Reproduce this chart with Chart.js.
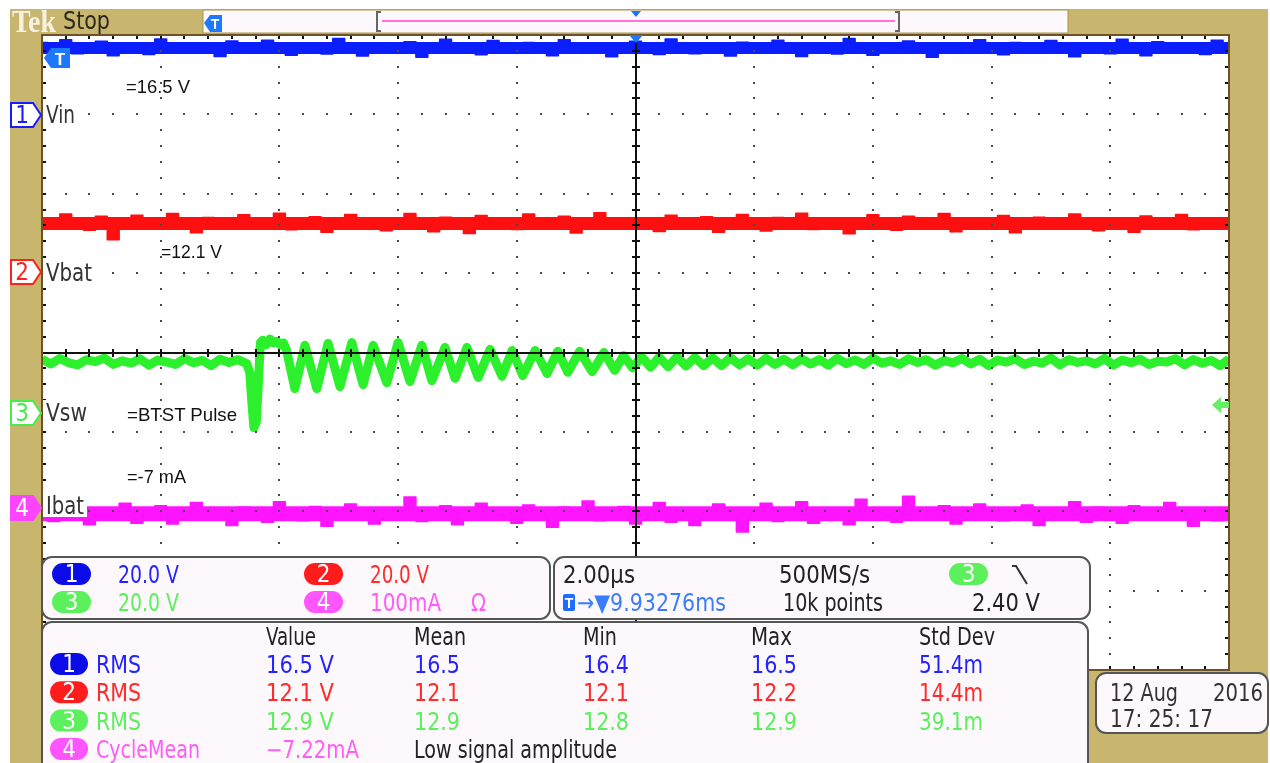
<!DOCTYPE html>
<html>
<head>
<meta charset="utf-8">
<script src="https://cdn.jsdelivr.net/npm/chart.js@4.4.1/dist/chart.umd.min.js"></script>
<style>
  html, body { margin: 0; padding: 0; background: #fff; }
  #wrap { position: relative; width: 1270px; height: 763px; overflow: hidden; }
  #tan { position: absolute; left: 10px; top: 9px; width: 1258px; height: 754px; background: #c8b66f; }
  #scope { position: absolute; left: 0; top: 0; }
  #ov { position: absolute; left: 0; top: 0; }
  .n { font-family: 'Liberation Sans Narrow', 'DejaVu Sans Condensed', 'Liberation Sans', sans-serif; font-size: 24px; }
  .a { font-family: 'Liberation Sans', Arial, sans-serif; font-size: 18.5px; fill: #111; }
</style>
</head>
<body>
<div id="wrap">
  <div id="tan"></div>
  <canvas id="scope" width="1270" height="763"></canvas>
  <svg id="ov" width="1270" height="763" xmlns="http://www.w3.org/2000/svg"></svg>
</div>
<script>
// scope setup
const timeSpan = 20;       // us across 10 div (2.00us/div)
const sampleStep = 0.2;    // us between stored samples of the flat traces
const ch1Pos = 3.01, ch1Scale = 20;   // div, V/div
const ch2Pos = 1.02, ch2Scale = 20;
const ch3Pos = -0.76, ch3Scale = 20;
const ch4Pos = -1.96, ch4Scale = 100; // mA/div

const rmsValues = [16.5, 12.1, 12.9, -7.22];

// Vin (V)
const ch1V = [
  17.9, 16.2, 18.6, 15.1, 16.8, 18.2, 14.6, 16.5, 17.4, 14.9, 18.8, 16.0, 15.3, 17.7, 16.4, 14.4, 18.3, 16.9, 15.6, 18.5,
  16.1, 14.7, 17.8, 16.6, 15.0, 18.9, 16.3, 14.5, 17.5, 16.8, 15.4, 18.1, 14.2, 16.7, 18.7, 15.8, 16.2, 14.8, 18.4, 16.5,
  15.2, 17.9, 16.0, 14.6, 18.6, 16.9, 15.5, 17.3, 14.3, 16.4, 18.2, 15.9, 14.9, 18.8, 16.6, 15.1, 17.6, 16.2, 14.5, 18.0,
  16.7, 15.3, 18.5, 16.1, 14.4, 17.8, 16.8, 15.0, 18.9, 16.3, 14.7, 17.4, 16.0, 18.3, 15.6, 14.2, 17.7, 16.5, 15.2, 18.6,
  16.4, 14.8, 17.9, 16.9, 15.4, 18.4, 16.2, 14.3, 17.6, 16.6, 15.1, 18.7, 16.0, 14.6, 18.1, 16.8, 15.5, 17.3, 14.9, 18.5, 16.3
];
// Vbat (V)
const ch2V = [
  13.4, 11.0, 14.5, 12.3, 10.4, 13.9, 8.0, 12.8, 14.2, 10.7, 12.0, 14.6, 11.3, 9.8, 13.6, 12.5, 10.9, 14.3, 11.8, 13.1,
  14.7, 10.5, 12.6, 13.8, 9.9, 12.2, 14.4, 11.1, 13.3, 10.3, 12.9, 14.6, 11.6, 10.0, 13.7, 12.4, 9.6, 14.1, 11.9, 13.0,
  10.6, 14.5, 12.1, 11.2, 13.9, 9.7, 12.7, 14.8, 10.8, 12.3, 13.5, 11.4, 10.1, 14.2, 12.6, 11.0, 13.8, 9.9, 12.9, 14.4,
  11.5, 10.2, 13.6, 12.0, 14.7, 10.6, 12.8, 13.2, 9.5, 12.4, 14.3, 11.7, 10.4, 13.9, 12.2, 11.1, 14.6, 10.0, 12.7, 13.4,
  11.3, 14.1, 9.8, 12.5, 13.7, 10.7, 12.1, 14.5, 11.6, 10.3, 13.3, 12.8, 9.9, 14.0, 11.8, 12.6, 14.4, 10.5, 13.1, 11.2, 12.3
];
// Ibat (mA)
const ch4mA = [
  0, -17, 4, -12, -21, -2, -14, 6, -19, -5, 3, -20, -9, 7, -15, -3, -22, 1, -11, -18,
  8, -6, -16, 2, -23, -8, 5, -13, -20, 0, -10, 14, -17, -4, 3, -21, -12, 6, -15, -1,
  -19, 4, -9, -24, 1, -14, 9, -16, -6, 2, -20, -11, 7, -18, -3, -22, -10, 5, -13, -30,
  -4, 6, -17, -8, 8, -19, 0, -12, -21, 11, -9, -2, -18, 15, -6, -15, 3, -20, -11, 5,
  -3, -16, -7, 4, -22, -5, -13, 8, -18, 1, -10, -19, 3, -8, -15, 7, -12, -23, -1, -16, -6
];
// Vsw (us, V): baseline, BTST pulse, ringing, baseline
const ch3T = [
  0, 0.15, 0.3, 0.45, 0.6, 0.75, 0.9, 1.05, 1.2, 1.35, 1.5, 1.65, 1.8, 1.95, 2.1, 2.25, 2.4, 2.55, 2.7, 2.85, 3.0, 3.15, 3.3, 3.45,
  3.50, 3.54, 3.57, 3.61, 3.63, 3.66, 3.68, 3.72, 3.78, 3.84, 3.90, 3.96, 4.02, 4.07, 4.12,
  4.26, 4.43, 4.63, 4.82, 5.02, 5.22, 5.41, 5.58, 5.81, 6.00, 6.20, 6.40, 6.57, 6.79, 6.96, 7.16, 7.35, 7.55, 7.75, 7.92,
  8.10, 8.31, 8.51, 8.69, 8.86, 9.06, 9.27, 9.47, 9.65,
  9.8, 9.95, 10.1, 10.25, 10.4, 10.55, 10.7, 10.85, 11.0, 11.15, 11.3, 11.45, 11.6, 11.75, 11.9, 12.05, 12.2, 12.35, 12.5, 12.65,
  12.8, 12.95, 13.1, 13.25, 13.4, 13.55, 13.7, 13.85, 14.0, 14.15, 14.3, 14.45, 14.6, 14.75, 14.9, 15.05, 15.2, 15.35, 15.5, 15.65,
  15.8, 15.95, 16.1, 16.25, 16.4, 16.55, 16.7, 16.85, 17.0, 17.15, 17.3, 17.45, 17.6, 17.75, 17.9, 18.05, 18.2, 18.35, 18.5, 18.65,
  18.8, 18.95, 19.1, 19.25, 19.4, 19.55, 19.7, 19.85, 20.0
];
const ch3V = [
  13.5, 12.3, 13.7, 12.6, 12.1, 13.4, 12.9, 13.8, 12.2, 13.1, 12.5, 13.6, 12.0, 13.3, 12.8, 12.2, 13.7, 12.6, 13.2, 11.9, 13.5, 12.7, 13.4, 12.4,
  10.2, 1.9, -3.7, -2.4, 3.1, 11.9, 17.7, 18.3, 17.2, 18.6, 17.6, 18.0, 17.1, 17.6, 15.8,
  6.1, 17.0, 6.1, 17.5, 6.6, 17.7, 7.1, 17.0, 7.6, 17.7, 7.9, 17.0, 8.1, 16.5, 8.7, 16.5, 8.9, 16.0, 9.2, 15.7,
  9.4, 15.7, 9.9, 15.5, 10.2, 15.5, 10.4, 15.2, 10.7,
  14.4, 11.3, 14.2, 11.5, 14.0, 11.6, 14.1, 11.8, 13.9, 11.9, 13.8, 11.9, 13.9, 12.1, 13.6, 12.0, 13.7, 12.2, 13.5, 12.1,
  13.6, 12.3, 13.4, 12.0, 13.7, 12.4, 13.3, 12.2, 13.8, 12.5, 13.1, 12.2, 13.6, 12.7, 13.4, 12.0, 13.2, 12.6, 13.7, 12.3,
  13.5, 11.9, 13.3, 12.8, 13.6, 12.2, 13.0, 12.5, 13.8, 12.1, 13.4, 12.7, 13.1, 12.3, 13.7, 12.0, 13.3, 12.6, 13.5, 12.2,
  13.0, 12.8, 13.6, 12.1, 13.4, 12.5, 13.2, 11.9, 13.5
];

const BLUE = '#0a1eff', RED = '#ff1010', GREEN = '#2cf02c', MAG = '#ff14ff';

function samples(vals, pos, scale) {
  return vals.map((v, i) => ({ x: i * sampleStep, y: pos + v / scale }));
}
function level(v, pos, scale) {
  return [{ x: 0, y: pos + v / scale }, { x: timeSpan, y: pos + v / scale }];
}
function trace(data, color, w) {
  return { data, borderColor: color, borderWidth: w, pointRadius: 0, showLine: true,
           fill: false, tension: 0, clip: 0, borderJoinStyle: 'round' };
}
// noise samples drawn as filled blocks around the trace level
function noise(vals, pos, scale, mean, color) {
  return Object.assign(trace(samples(vals, pos, scale), color, 1.5), {
    stepped: 'middle', fill: { value: pos + mean / scale }, backgroundColor: color
  });
}

const ch3Pts = ch3T.map((t, i) => ({ x: t, y: ch3Pos + ch3V[i] / ch3Scale }));

// dotted graticule, drawn over the traces like on the scope
const graticule = {
  id: 'graticule',
  beforeDraw(chart) {
    const { ctx, chartArea: a } = chart;
    ctx.save();
    ctx.fillStyle = '#fff';
    ctx.fillRect(a.left, a.top, a.width, a.height);
    ctx.restore();
  },
  afterDatasetsDraw(chart) {
    const { ctx, chartArea: a, scales: { x, y } } = chart;
    const px = v => Math.round(x.getPixelForValue(v));
    const py = v => Math.round(y.getPixelForValue(v));
    ctx.save();
    ctx.fillStyle = '#4a4a4a';
    for (let i = 1; i < 10; i++) {
      if (i === 5) continue;
      const gx = px(i * 2);
      for (let k = 1; k < 40; k++) ctx.fillRect(gx - 1, py(-4 + k * 0.2) - 1, 2, 2);
    }
    for (let j = -3; j <= 3; j++) {
      if (j === 0) continue;
      const gy = py(j);
      for (let k = 1; k < 50; k++) ctx.fillRect(px(k * 0.4) - 1, gy - 1, 2, 2);
    }
    const cx = px(10), cy = py(0);
    ctx.fillStyle = '#111';
    ctx.fillRect(a.left, cy - 1, a.width, 2);
    ctx.fillRect(cx - 1, a.top, 2, a.height);
    for (let k = 1; k < 50; k++) {
      const tx = px(k * 0.4);
      ctx.fillRect(tx - 1, cy - 4, 2, 8);
      ctx.fillRect(tx - 1, a.top, 2, 4);
      ctx.fillRect(tx - 1, a.bottom - 4, 2, 4);
    }
    for (let k = 1; k < 40; k++) {
      const ty = py(-4 + k * 0.2);
      ctx.fillRect(cx - 4, ty - 1, 8, 2);
      ctx.fillRect(a.left, ty - 1, 4, 2);
      ctx.fillRect(a.right - 4, ty - 1, 4, 2);
    }
    ctx.strokeStyle = '#6e5224';
    ctx.lineWidth = 2;
    ctx.strokeRect(a.left, a.top, a.width, a.height);
    ctx.restore();
  }
};

new Chart(document.getElementById('scope'), {
  type: 'scatter',
  data: {
    datasets: [
      trace(ch3Pts, GREEN, 9),
      noise(ch1V, ch1Pos, ch1Scale, rmsValues[0], BLUE),
      trace(level(rmsValues[0], ch1Pos, ch1Scale), BLUE, 12),
      noise(ch2V, ch2Pos, ch2Scale, rmsValues[1], RED),
      trace(level(rmsValues[1], ch2Pos, ch2Scale), RED, 13),
      noise(ch4mA, ch4Pos, ch4Scale, rmsValues[3], MAG),
      trace(level(rmsValues[3], ch4Pos, ch4Scale), MAG, 15)
    ]
  },
  options: {
    responsive: false,
    animation: false,
    events: [],
    layout: { padding: { left: 42, top: 35, right: 41, bottom: 93 } },
    plugins: { legend: { display: false }, tooltip: { enabled: false } },
    scales: {
      x: { type: 'linear', min: 0, max: timeSpan, display: false },
      y: { type: 'linear', min: -4, max: 4, display: false }
    }
  },
  plugins: [graticule]
});

// ---- screen furniture (text stays text) ----
const svg = document.getElementById('ov');
const NS = 'http://www.w3.org/2000/svg';
function el(tag, attrs, text) {
  const e = document.createElementNS(NS, tag);
  for (const k in attrs) e.setAttribute(k, attrs[k]);
  if (text != null) e.textContent = text;
  svg.appendChild(e);
  return e;
}
function txt(x, y, s, fill, w, cls) {
  const a = { x, y, fill, class: cls || 'n' };
  if (w) { a.textLength = w; a.lengthAdjust = 'spacingAndGlyphs'; }
  return el('text', a, s);
}
function pill(x, yc, w, color, label) {
  el('rect', { x, y: yc - 11, width: w, height: 22, rx: 11, fill: color });
  const t = txt(x + w / 2, yc + 8, label, '#fff');
  t.setAttribute('text-anchor', 'middle');
  t.setAttribute('font-size', '22');
}
function panel(x, y, w, h) {
  el('rect', { x, y, width: w, height: h, rx: 10, fill: '#fdf8fc', stroke: '#555', 'stroke-width': 2 });
}

// top bar
el('rect', { x: 203, y: 10, width: 865, height: 23, fill: '#fdf8fc', stroke: '#a8954f', 'stroke-width': 1 });
el('line', { x1: 382, y1: 21, x2: 895, y2: 21, stroke: '#ff70e0', 'stroke-width': 2 });
el('path', { d: 'M381,12 H377 V31 H381', stroke: '#666', fill: 'none', 'stroke-width': 2 });
el('path', { d: 'M895,12 H899 V31 H895', stroke: '#666', fill: 'none', 'stroke-width': 2 });
el('polygon', { points: '631,11 641,11 636,17', fill: '#1e70ff' });
el('polygon', { points: '204,23 210,15 222,15 222,32 210,32', fill: '#1e78ff' });
el('text', { x: 215, y: 29, fill: '#fff', 'font-family': 'Liberation Sans', 'font-weight': 'bold', 'font-size': 14, 'text-anchor': 'middle' }, 'T');
el('text', { x: 12, y: 32, fill: '#f6f1e2', 'font-family': 'Liberation Serif', 'font-weight': 'bold', 'font-size': 32, textLength: 44, lengthAdjust: 'spacingAndGlyphs' }, 'Tek');
txt(63, 29, 'Stop', '#2a281c', 47).setAttribute('font-size', '25');

// trigger markers in the graticule
el('polygon', { points: '44,58 51,48 70,48 70,68 51,68', fill: '#1e78ff' });
el('text', { x: 60, y: 65, fill: '#fff', 'font-family': 'Liberation Sans', 'font-weight': 'bold', 'font-size': 17, 'text-anchor': 'middle' }, 'T');
el('polygon', { points: '629,35 643,35 636,43', fill: '#1e78ff' });
el('polygon', { points: '1212,405 1221,397 1221,402 1229,402 1229,408 1221,408 1221,413', fill: '#66ee66' });

// channel ground markers and labels
function chMarker(yc, color, n, filled) {
  el('path', { d: `M11,${yc - 12} H33 L41,${yc} L33,${yc + 12} H11 Z`, stroke: color, 'stroke-width': 2, fill: filled ? color : '#fff' });
  const t = txt(22, yc + 8, n, filled ? '#fff' : color);
  t.setAttribute('text-anchor', 'middle');
  t.setAttribute('font-size', '23');
}
function chLabel(yc, s, w) {
  el('rect', { x: 43, y: yc - 12, width: w + 6, height: 24, fill: '#fff' });
  txt(46, yc + 9, s, '#333', w);
}
chMarker(115, '#1a1aff', '1', false);
chMarker(272, '#ff2020', '2', false);
chMarker(413, '#44ee44', '3', false);
chMarker(508, '#ff44ff', '4', true);
chLabel(114, 'Vin', 29);
chLabel(272, 'Vbat', 46);
chLabel(412, 'Vsw', 41);
chLabel(505, 'Ibat', 38);

txt(126, 93, '=16.5 V', '#111', 64, 'a');
txt(161, 258, '=12.1 V', '#111', 61, 'a');
txt(127, 421, '=BTST Pulse', '#111', 110, 'a');
txt(127, 483, '=-7 mA', '#111', 59, 'a');

// vertical settings panel
const TB = '#2323ff', TR = '#ff2a2a', TG = '#5bf05b', TM = '#ff5cf5', TK = '#222';
panel(42, 557, 508, 62);
pill(52, 574, 39, '#0c0ce8', '1'); txt(118, 583, '20.0 V', TB, 61);
pill(304, 574, 39, '#ff1c1c', '2'); txt(370, 583, '20.0 V', TR, 59);
pill(52, 602, 39, '#5cf05c', '3'); txt(118, 611, '20.0 V', TG, 61);
pill(304, 602, 39, '#ff55ff', '4'); txt(370, 611, '100mA', TM, 71); txt(471, 611, 'Ω', TM, 15);

// timebase / trigger panel
panel(554, 557, 536, 62);
txt(563, 583, '2.00µs', TK, 72);
txt(779, 583, '500MS/s', TK, 91);
pill(949, 574, 39, '#5cf05c', '3');
el('polyline', { points: '1012,566 1016,566 1027,584', stroke: '#333', 'stroke-width': 2, fill: 'none' });
el('rect', { x: 563, y: 594, width: 12, height: 17, rx: 2, fill: '#1c6cff' });
el('text', { x: 569, y: 608, fill: '#fff', 'font-family': 'Liberation Sans', 'font-weight': 'bold', 'font-size': 14, 'text-anchor': 'middle' }, 'T');
txt(577, 611, '→▼9.93276ms', '#3b7cff', 149);
txt(783, 611, '10k points', TK, 100);
txt(972, 611, '2.40 V', TK, 68);

// measurement panel
const measCols = [266, 414, 583, 751, 919];
const measHeads = ['Value', 'Mean', 'Min', 'Max', 'Std Dev'];
const measHeadW = [50, 52, 34, 41, 76];
const measPill = ['#0c0ce8', '#ff1c1c', '#5cf05c', '#ff55ff'];
const measColor = [TB, TR, TG, TM];
const measNames = ['RMS', 'RMS', 'RMS', 'CycleMean'];
const measRows = [
  ['16.5 V', '16.5', '16.4', '16.5', '51.4m'],
  ['12.1 V', '12.1', '12.1', '12.2', '14.4m'],
  ['12.9 V', '12.9', '12.8', '12.9', '39.1m'],
  ['−7.22mA', 'Low signal amplitude']
];
panel(42, 622, 1046, 170);
measHeads.forEach((h, i) => txt(measCols[i], 645, h, TK, measHeadW[i]));
measRows.forEach((row, r) => {
  const yc = 664 + r * 28.3;
  pill(50, yc, 38, measPill[r], String(r + 1));
  txt(96, yc + 9, measNames[r], measColor[r], r === 3 ? 104 : 45);
  row.forEach((s, c) => {
    let w = c === 0 ? 68 : (c === 4 ? 64 : 46);
    let col = measColor[r];
    if (r === 3 && c === 0) w = 93;
    if (r === 3 && c === 1) { w = 203; col = TK; }
    txt(measCols[c], yc + 9, s, col, w);
  });
});

// date panel
panel(1096, 673, 172, 60);
txt(1110, 701, '12 Aug', '#333', 68);
txt(1213, 701, '2016', '#333', 50);
txt(1110, 727, '17: 25: 17', '#333', 103);
</script>
</body>
</html>
